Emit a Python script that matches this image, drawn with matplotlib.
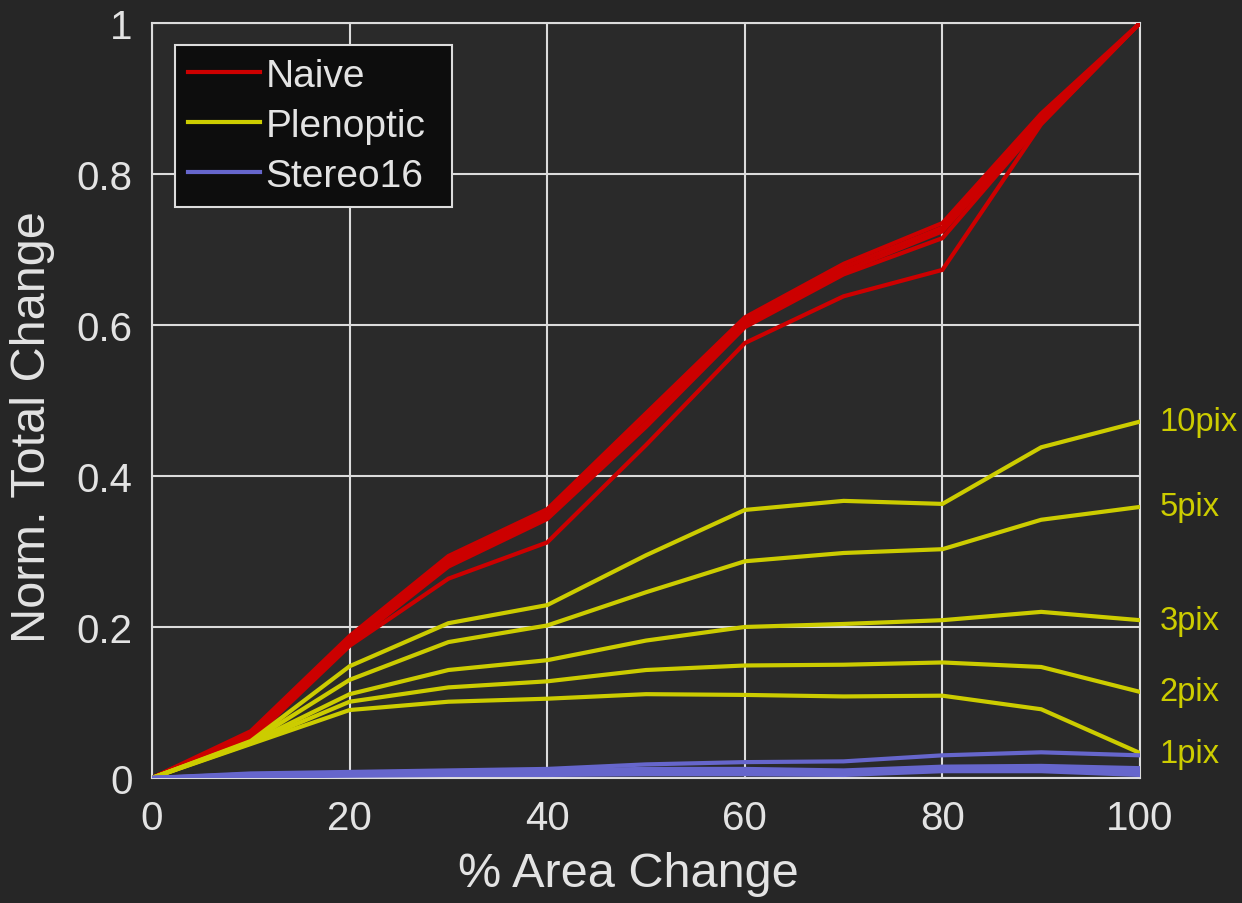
import matplotlib
matplotlib.use("Agg")
import matplotlib.pyplot as plt
from matplotlib.lines import Line2D

plt.rcParams['font.family'] = ['Liberation Sans', 'DejaVu Sans']

# % area change sampled every 10 %
area_change = [0, 10, 20, 30, 40, 50, 60, 70, 80, 90, 100]

# Naive method, one curve per blur radius
naive_curves = [
    [0, 0.062, 0.188, 0.294, 0.356, 0.483, 0.610, 0.681, 0.735, 0.880, 1.0],
    [0, 0.058, 0.184, 0.289, 0.351, 0.477, 0.605, 0.676, 0.729, 0.875, 1.0],
    [0, 0.055, 0.180, 0.284, 0.347, 0.470, 0.600, 0.671, 0.724, 0.870, 1.0],
    [0, 0.053, 0.177, 0.280, 0.343, 0.465, 0.597, 0.667, 0.715, 0.867, 1.0],
    [0, 0.050, 0.175, 0.264, 0.312, 0.441, 0.576, 0.638, 0.673, 0.866, 1.0],
]

# Plenoptic method, labelled by blur radius
plenoptic_labels = ['10pix', '5pix', '3pix', '2pix', '1pix']
plenoptic_curves = [
    [0, 0.049, 0.148, 0.205, 0.229, 0.295, 0.355, 0.367, 0.363, 0.438, 0.472],
    [0, 0.048, 0.130, 0.180, 0.202, 0.246, 0.287, 0.298, 0.303, 0.342, 0.359],
    [0, 0.047, 0.111, 0.143, 0.156, 0.182, 0.200, 0.204, 0.209, 0.220, 0.209],
    [0, 0.046, 0.101, 0.120, 0.128, 0.143, 0.149, 0.150, 0.153, 0.147, 0.114],
    [0, 0.045, 0.090, 0.101, 0.105, 0.111, 0.110, 0.108, 0.109, 0.091, 0.033],
]

# Stereo16 method
stereo_curves = [
    [0, 0.006, 0.008, 0.010, 0.012, 0.018, 0.021, 0.022, 0.030, 0.034, 0.030],
    [0, 0.005, 0.007, 0.009, 0.010, 0.012, 0.012, 0.010, 0.015, 0.016, 0.013],
    [0, 0.004, 0.006, 0.007, 0.008, 0.010, 0.010, 0.008, 0.013, 0.013, 0.010],
    [0, 0.003, 0.005, 0.006, 0.006, 0.008, 0.008, 0.006, 0.011, 0.011, 0.007],
    [0, 0.002, 0.003, 0.004, 0.004, 0.005, 0.005, 0.004, 0.009, 0.009, 0.004],
]

x_ticks = [0, 20, 40, 60, 80, 100]
y_ticks = [0, 0.2, 0.4, 0.6, 0.8, 1.0]
y_tick_labels = ['0', '0.2', '0.4', '0.6', '0.8', '1']

RED = '#cc0000'
YELLOW = '#cccc00'
BLUE = '#6666cc'
TEXT = '#e3e3e3'
GRID = '#dcdcdc'
LW = 3.0

fig = plt.figure(figsize=(12.42, 9.04), dpi=100, facecolor='#262626')
ax = fig.add_axes([0.1224, 0.1383, 0.7955, 0.8352])
ax.set_facecolor('#2a2a2a')

for ys in naive_curves:
    ax.plot(area_change, ys, color=RED, lw=LW, solid_joinstyle='miter', zorder=3)
for ys in plenoptic_curves:
    ax.plot(area_change, ys, color=YELLOW, lw=LW, solid_joinstyle='miter', zorder=4)
for ys in stereo_curves:
    ax.plot(area_change, ys, color=BLUE, lw=LW, solid_joinstyle='miter', zorder=5)

for lab, ys in zip(plenoptic_labels, plenoptic_curves):
    ax.annotate(lab, xy=(area_change[-1], ys[-1]), xytext=(14, 0),
                textcoords='offset points', color=YELLOW, fontsize=23.5,
                va='center', ha='left', annotation_clip=False)

ax.set_xlim(0, 100)
ax.set_ylim(0, 1)
ax.set_xticks(x_ticks)
ax.set_yticks(y_ticks)
ax.set_yticklabels(y_tick_labels)
ax.tick_params(axis='both', colors=TEXT, labelsize=29, length=0)
ax.tick_params(axis='y', pad=14)
ax.tick_params(axis='x', pad=15)
ax.grid(True, color=GRID, lw=1.5)
ax.set_axisbelow(True)
for s in ax.spines.values():
    s.set_color(GRID)
    s.set_linewidth(1.5)

ax.set_xlabel('% Area Change', fontsize=35, color=TEXT)
ax.set_ylabel('Norm. Total Change', fontsize=35, color=TEXT)
ax.xaxis.set_label_coords(0.482, -0.097)
ax.yaxis.set_label_coords(-0.098, 0.466)

handles = [Line2D([], [], color=RED, lw=LW),
           Line2D([], [], color=YELLOW, lw=LW),
           Line2D([], [], color=BLUE, lw=LW)]
leg = ax.legend(handles, ['Naive', 'Plenoptic', 'Stereo16'],
                loc='upper left', bbox_to_anchor=(0.0233, 0.0, 0.2803, 0.971),
                mode='expand',
                fontsize=28, frameon=True, fancybox=False,
                facecolor='#0d0d0d', edgecolor=GRID, framealpha=1,
                handlelength=1.85, handletextpad=0.15, labelspacing=0.36,
                borderpad=0.33, borderaxespad=0)
leg.get_frame().set_linewidth(1.5)
for t in leg.get_texts():
    t.set_color(TEXT)

fig.savefig('out.png', dpi=100, facecolor=fig.get_facecolor())
